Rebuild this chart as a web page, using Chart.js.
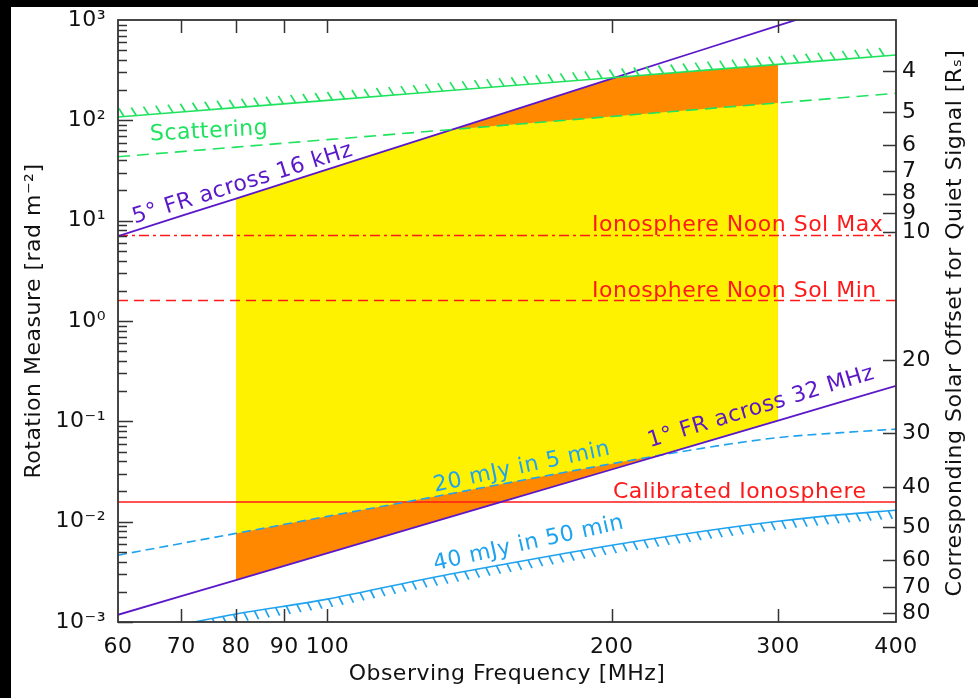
<!DOCTYPE html>
<html>
<head>
<meta charset="utf-8">
<title>Rotation measure vs observing frequency</title>
<script src="https://cdn.jsdelivr.net/npm/chart.js@4.4.1/dist/chart.umd.min.js"></script>
<style>
  html, body { margin: 0; padding: 0; width: 978px; height: 698px; overflow: hidden; background: #000; }
  #panel { position: absolute; left: 11px; top: 7px; width: 967px; height: 691px; background: #fff; }
  canvas { display: block; }
</style>
</head>
<body>
<div id="panel"><canvas id="rm" width="967" height="691"></canvas></div>
<script>
// Observing frequencies (MHz) at which every curve is sampled
const freqMHz = [60, 70, 80, 100, 125, 150, 200, 250, 300, 350, 400];

// Scattering limit (solid, hatched) and the dashed scattering curve, rad m^-2
const scatterLimit  = [108, 121, 134, 158, 187, 215, 266, 315, 361, 405, 448];
const scatterDashed = [43.4, 48.8, 54.1, 64.2, 76.2, 87.6, 109.3, 129.7, 149.2, 167.9, 186];

// Faraday-rotation limits
const fr5deg16kHz = [7.02, 11.15, 16.6, 32.5, 63.5, 109.7, 260, 508, 878, 1393, 2080];
const fr1deg32MHz = [0.00118, 0.00181, 0.00262, 0.00486, 0.00901, 0.01494, 0.0331, 0.0615, 0.1018, 0.1561, 0.226];

// Sensitivity limits
const sens20mJy5min  = [0.00463, 0.00607, 0.00764, 0.0113, 0.0166, 0.0229, 0.0378, 0.0541, 0.0688, 0.0771, 0.0836];
const sens40mJy50min = [0.000705, 0.00094, 0.0012, 0.00169, 0.00261, 0.0036, 0.00583, 0.00804, 0.0101, 0.01175, 0.0130];

// Ionospheric rotation-measure levels
const ionoNoonSolMax = 7.1;
const ionoNoonSolMin = 1.6;
const ionoCalibrated = 0.0157;

// Observing band that is shaded
const bandLow = 80;
const bandHigh = 300;

// Axis ticks
const xTicks = [60, 70, 80, 90, 100, 200, 300, 400];
const yDecades = [-3, -2, -1, 0, 1, 2, 3];
const solarOffsetRs = [4, 5, 6, 7, 8, 9, 10, 20, 30, 40, 50, 60, 70, 80];
const solarOffsetRM = [310, 121, 56.7, 31.2, 18.6, 11.9, 7.7, 0.408, 0.0763, 0.0221, 0.00881, 0.00413, 0.00222, 0.001224];

const C = {
  green: '#1fe35f', purple: '#5b18c9', red: '#ff1a1a', blue: '#1fa3ef',
  yellow: '#fff200', orange: '#ff8800', ink: '#111111', frame: '#333333'
};
const clear = 'rgba(0,0,0,0)';
const FONT = 'DejaVu Sans';
const FSIZE = 22;

const toPoints = vals => freqMHz.map((f, i) => ({ x: f, y: vals[i] }));
const inBand = vals => toPoints(vals).filter(p => p.x >= bandLow && p.x <= bandHigh);
const flat = v => [{ x: freqMHz[0], y: v }, { x: freqMHz[freqMHz.length - 1], y: v }];

const SUP = { '-': '\u207B', '0': '\u2070', '1': '\u00B9', '2': '\u00B2', '3': '\u00B3',
  '4': '\u2074', '5': '\u2075', '6': '\u2076', '7': '\u2077', '8': '\u2078', '9': '\u2079' };
const power10 = e => '10' + String(e).split('').map(c => SUP[c]).join('');

function curve(data, color, extra) {
  return Object.assign({ data, borderColor: color, backgroundColor: color, borderWidth: 1.6,
    pointRadius: 0, pointHoverRadius: 0, fill: false, tension: 0, order: 0 }, extra || {});
}
function region(data, fill, order, extra) {
  return Object.assign({ data, borderColor: clear, borderWidth: 0.01, backgroundColor: clear,
    pointRadius: 0, pointHoverRadius: 0, fill, order }, extra || {});
}

const datasets = [
  /* 0 */ curve(toPoints(scatterLimit), C.green, { hatch: { step: 12.3, dx: -5, dy: -8, phase: 6 } }),
  /* 1 */ curve(toPoints(scatterDashed), C.green, { borderDash: [12, 7] }),
  /* 2 */ curve(toPoints(fr5deg16kHz), C.purple, { borderWidth: 1.8 }),
  /* 3 */ curve(toPoints(fr1deg32MHz), C.purple, { borderWidth: 1.8 }),
  /* 4 */ curve(toPoints(sens20mJy5min), C.blue, { borderDash: [9, 5], cubicInterpolationMode: 'monotone' }),
  /* 5 */ curve(toPoints(sens40mJy50min), C.blue, { cubicInterpolationMode: 'monotone', hatch: { step: 10.7, dx: 4, dy: 8, phase: 0 } }),
  /* 6 */ curve(flat(ionoNoonSolMax), C.red, { borderDash: [10, 4, 3, 4], borderWidth: 1.5 }),
  /* 7 */ curve(flat(ionoNoonSolMin), C.red, { borderDash: [10, 6], borderWidth: 1.4 }),
  /* 8 */ curve(flat(ionoCalibrated), C.red, { borderWidth: 1.5 }),
  // shaded band: yellow base, orange margins, then trimmed above the 5 deg line
  /* 9 */ region(inBand(scatterLimit), 10, 14, { backgroundColor: C.yellow }),
  /* 10 */ region(inBand(fr1deg32MHz), false, 15),
  /* 11 */ region(inBand(scatterDashed), { target: 9, above: clear, below: C.orange }, 13),
  /* 12 */ region(inBand(sens20mJy5min), { target: 10, above: C.orange, below: clear }, 12, { cubicInterpolationMode: 'monotone' }),
  /* 13 */ region(inBand(fr5deg16kHz), { target: 9, above: clear, below: '#ffffff' }, 11)
];

// Text labels placed along the curves (baseline-left anchor in data units)
const notes = [
  { text: 'Scattering', color: C.green, f: 64.9, rm: 62.9, angle: -3 },
  { text: '5\u00B0 FR across 16 kHz', color: C.purple, f: 62.5, rm: 9.36, angle: -17.3 },
  { text: 'Ionosphere Noon Sol Max', color: C.red, f: 190.6, rm: ionoNoonSolMax, dy: -5, angle: 0 },
  { text: 'Ionosphere Noon Sol Min', color: C.red, f: 190.6, rm: ionoNoonSolMin, dy: -4, angle: 0 },
  { text: '1\u00B0 FR across 32 MHz', color: C.purple, f: 219.5, rm: 0.0553, angle: -17 },
  { text: '20 mJy in 5 min', color: C.blue, f: 130, rm: 0.0199, angle: -12 },
  { text: 'Calibrated Ionosphere', color: C.red, f: 200.6, rm: ionoCalibrated, dy: -4, angle: 0 },
  { text: '40 mJy in 50 min', color: C.blue, f: 130, rm: 0.00328, angle: -12.5 }
];

const decorations = {
  id: 'decorations',
  beforeDraw(chart) {
    chart.ctx.letterSpacing = '0.5px';
  },
  afterDatasetsDraw(chart) {
    const { ctx, chartArea: a, scales } = chart;
    const x = scales.x, y = scales.y;

    // hatching on the limit curves
    ctx.save();
    ctx.beginPath();
    ctx.rect(a.left, a.top, a.right - a.left, a.bottom - a.top);
    ctx.clip();
    chart.data.datasets.forEach((ds, i) => {
      if (!ds.hatch) return;
      const pts = chart.getDatasetMeta(i).data;
      ctx.strokeStyle = ds.borderColor;
      ctx.lineWidth = 1.7;
      ctx.beginPath();
      let carry = ds.hatch.phase;
      for (let k = 0; k < pts.length - 1; k++) {
        const p = pts[k], q = pts[k + 1];
        const dx = q.x - p.x, dy = q.y - p.y, L = Math.hypot(dx, dy);
        let s = carry;
        while (s <= L) {
          const t = s / L, px = p.x + dx * t, py = p.y + dy * t;
          ctx.moveTo(px, py);
          ctx.lineTo(px + ds.hatch.dx, py + ds.hatch.dy);
          s += ds.hatch.step;
        }
        carry = s - L;
      }
      ctx.stroke();
    });
    ctx.restore();

    // curve labels
    ctx.save();
    ctx.font = FSIZE + 'px "' + FONT + '"';
    ctx.textAlign = 'left';
    ctx.textBaseline = 'alphabetic';
    notes.forEach(n => {
      const px = x.getPixelForValue(n.f);
      const py = y.getPixelForValue(n.rm) + (n.dy || 0);
      ctx.save();
      ctx.translate(px, py);
      ctx.rotate(n.angle * Math.PI / 180);
      ctx.fillStyle = n.color;
      ctx.fillText(n.text, 0, 0);
      ctx.restore();
    });
    ctx.restore();

    // frame and inward tick marks
    ctx.save();
    ctx.strokeStyle = C.frame;
    ctx.lineWidth = 1.5;
    ctx.beginPath();
    xTicks.forEach(v => {
      if (v <= x.min || v >= x.max) return;
      const px = Math.round(x.getPixelForValue(v)) + 0.5;
      ctx.moveTo(px, a.bottom); ctx.lineTo(px, a.bottom - 13);
      ctx.moveTo(px, a.top); ctx.lineTo(px, a.top + 13);
    });
    for (let e = yDecades[0]; e < yDecades[yDecades.length - 1]; e++) {
      for (let m = 1; m < 10; m++) {
        const py = Math.round(y.getPixelForValue(m * Math.pow(10, e))) + 0.5;
        ctx.moveTo(a.left, py); ctx.lineTo(a.left + (m === 1 ? 15 : 9), py);
      }
    }
    solarOffsetRM.forEach(v => {
      const py = Math.round(scales.y2.getPixelForValue(v)) + 0.5;
      ctx.moveTo(a.right, py); ctx.lineTo(a.right - 13, py);
    });
    ctx.stroke();
    ctx.lineWidth = 1.8;
    ctx.strokeRect(a.left, a.top, a.right - a.left, a.bottom - a.top);
    ctx.restore();

    // right-hand axis title, reading upward
    ctx.save();
    ctx.font = FSIZE + 'px "' + FONT + '"';
    ctx.fillStyle = C.ink;
    ctx.textAlign = 'center';
    ctx.textBaseline = 'alphabetic';
    ctx.translate(a.right + 65, (a.top + a.bottom) / 2 + 2);
    ctx.rotate(-Math.PI / 2);
    ctx.fillText('Corresponding Solar Offset for Quiet Signal [R\u209B]', 0, 0);
    ctx.restore();
  }
};

const tickFont = { family: FONT, size: FSIZE };
const noGrid = { display: false, drawTicks: false, tickLength: 0 };

new Chart(document.getElementById('rm'), {
  type: 'line',
  data: { datasets },
  options: {
    responsive: false,
    animation: false,
    events: [],
    layout: { padding: { top: 13, left: 0, right: 0, bottom: 0 } },
    plugins: {
      legend: { display: false },
      tooltip: { enabled: false },
      filler: { propagate: false }
    },
    scales: {
      x: {
        type: 'logarithmic', min: 60, max: 400, position: 'bottom',
        afterBuildTicks: s => { s.ticks = xTicks.map(v => ({ value: v })); },
        afterFit: s => { s.height = 76; s.paddingLeft = 0; s.paddingRight = 0; },
        grid: noGrid, border: { display: false },
        ticks: { autoSkip: false, maxRotation: 0, minRotation: 0, padding: 12, color: C.ink, font: tickFont,
          callback: v => String(v) },
        title: { display: true, text: 'Observing Frequency [MHz]', color: C.ink, font: tickFont,
          padding: { top: 0, bottom: 11 } }
      },
      y: {
        type: 'logarithmic', min: 1e-3, max: 1e3, position: 'left',
        afterBuildTicks: s => { s.ticks = yDecades.map(e => ({ value: Math.pow(10, e) })); },
        afterFit: s => { s.width = 107; s.paddingTop = 0; s.paddingBottom = 0; },
        grid: noGrid, border: { display: false },
        ticks: { autoSkip: false, padding: 12, color: C.ink, font: tickFont,
          callback: v => power10(Math.round(Math.log10(v))) },
        title: { display: true, text: 'Rotation Measure [rad m\u207B\u00B2]', color: C.ink, font: tickFont,
          padding: { top: 10, bottom: 0 } }
      },
      y2: {
        type: 'logarithmic', min: 1e-3, max: 1e3, position: 'right',
        afterBuildTicks: s => { s.ticks = solarOffsetRM.map(v => ({ value: v })); },
        afterFit: s => { s.width = 82; s.paddingTop = 0; s.paddingBottom = 0; },
        grid: noGrid, border: { display: false },
        ticks: { autoSkip: false, padding: 6, color: C.ink, font: tickFont,
          callback: (v, i) => String(solarOffsetRs[i]) }
      }
    }
  },
  plugins: [decorations]
});
</script>
</body>
</html>
